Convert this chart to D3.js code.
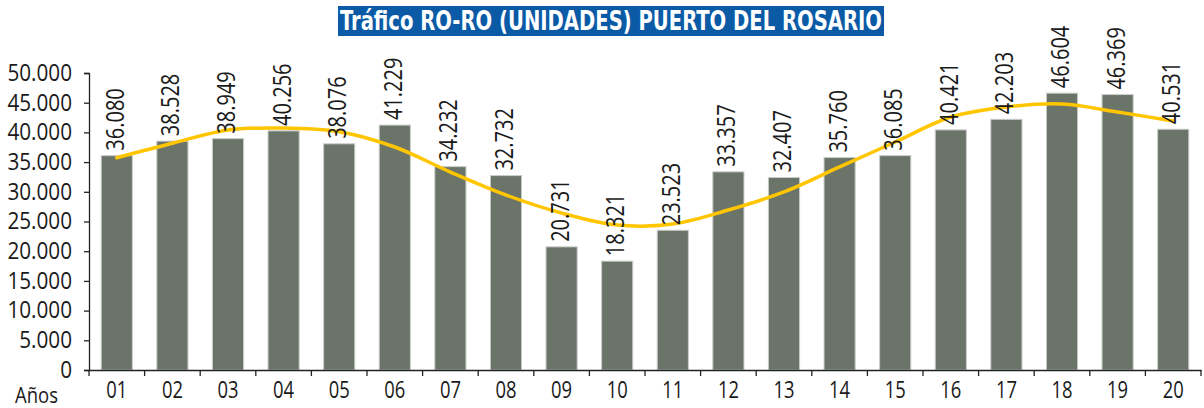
<!DOCTYPE html>
<html>
<head>
<meta charset="utf-8">
<script src="https://cdn.jsdelivr.net/npm/d3@7/dist/d3.min.js"></script>
<style>
  html, body { margin: 0; padding: 0; background: #fff; }
  svg { display: block; }
  .lbl { font-family: "Open Sans", "Noto Sans", sans-serif; fill: #1a1a1a; }
</style>
</head>
<body>
<svg id="chart" width="1204" height="408"></svg>
<script>
// Annual RO-RO traffic (units), Puerto del Rosario
const years = ["01","02","03","04","05","06","07","08","09","10","11","12","13","14","15","16","17","18","19","20"];
const units = [36080, 38528, 38949, 40256, 38076, 41229, 34232, 32732, 20731, 18321,
               23523, 33357, 32407, 35760, 36085, 40421, 42203, 46604, 46369, 40531];
// Polynomial trend line, sampled at each year
const trend = [35740, 38170, 40400, 40740, 40120, 37540, 33330, 29460, 26430, 24410,
               24580, 26940, 29970, 34180, 38380, 42590, 44280, 44780, 43430, 41920];
const yTicks = [0, 5000, 10000, 15000, 20000, 25000, 30000, 35000, 40000, 45000, 50000];
const titleText = "Tráfico RO-RO (UNIDADES) PUERTO DEL ROSARIO";
const axisTitle = "Años";

const es = d3.formatLocale({ decimal: ",", thousands: ".", grouping: [3], currency: ["", "€"] });
const fmt = es.format(",d");

// Narrow a text run to a fraction of its natural width (condensed look)
function squeeze(sel, f) {
  sel.each(function () {
    const len = this.getComputedTextLength();
    d3.select(this).attr("textLength", len * f).attr("lengthAdjust", "spacingAndGlyphs");
  });
}

const svg = d3.select("#chart");
const plotLeft = 89, plotRight = 1201, plotTop = 73, plotBottom = 370;

const x = d3.scaleBand().domain(years).range([plotLeft, plotRight]).paddingInner(0.44).paddingOuter(0.22);
const y = d3.scaleLinear().domain([0, 50000]).range([plotBottom, plotTop]);

// Title banner
const title = svg.append("g");
title.append("rect").attr("fill", "#0b5aa6")
  .attr("x", 338).attr("y", 6).attr("width", 546).attr("height", 30);
title.append("text")
  .attr("x", 611).attr("y", 30)
  .attr("text-anchor", "middle")
  .attr("fill", "#fff")
  .style("font-family", "'DejaVu Sans Condensed', 'Open Sans', sans-serif")
  .style("font-weight", "bold")
  .style("font-size", "27px")
  .attr("textLength", 542)
  .attr("lengthAdjust", "spacingAndGlyphs")
  .text(titleText);

// Bars
svg.append("g").selectAll("rect").data(years).join("rect")
  .attr("x", d => x(d))
  .attr("width", x.bandwidth())
  .attr("y", (d, i) => y(units[i]))
  .attr("height", (d, i) => y(0) - y(units[i]))
  .attr("fill", "#6a7469")
  .attr("stroke", "#c9ccc8")
  .attr("stroke-width", 1);

// Trend line
const line = d3.line()
  .x((d, i) => x(years[i]) + x.bandwidth() / 2)
  .y(d => y(d))
  .curve(d3.curveCatmullRom.alpha(0.5));
svg.append("path").datum(trend)
  .attr("d", line)
  .attr("fill", "none")
  .attr("stroke", "#ffc600")
  .attr("stroke-width", 3.5)
  .attr("stroke-linecap", "round");

// Value labels, rotated
const vals = svg.append("g").selectAll("text").data(years).join("text")
  .attr("class", "lbl")
  .attr("transform", (d, i) => `translate(${x(d) + x.bandwidth() / 2 - 2},${y(units[i]) - 5}) rotate(-90)`)
  .attr("dy", "0.36em")
  .style("font-size", "25px")
  .text((d, i) => fmt(units[i]));
squeeze(vals, 0.8);

// Y axis
const yAxis = svg.append("g")
  .attr("transform", `translate(${plotLeft},0)`)
  .call(d3.axisLeft(y).tickValues(yTicks).tickSize(5).tickPadding(12).tickFormat(fmt));
yAxis.selectAll("text").attr("class", "lbl").style("font-size", "23px").attr("fill", "#1a1a1a");
squeeze(yAxis.selectAll("text"), 0.9);
yAxis.selectAll("line, path").attr("stroke", "#222").attr("stroke-width", 1.3);

// X axis
const xAxis = svg.append("g")
  .attr("transform", `translate(0,${plotBottom})`)
  .call(d3.axisBottom(x).tickSize(0).tickPadding(12).tickSizeOuter(0));
xAxis.selectAll("text").attr("class", "lbl").style("font-size", "23px").attr("fill", "#1a1a1a");
squeeze(xAxis.selectAll("text"), 0.8);
xAxis.select("path").attr("stroke", "#222").attr("stroke-width", 1.3);
const step = x.step();
const edges = years.map(d => x(d) - x.paddingOuter() * step).concat([plotRight]);
xAxis.selectAll("line.edge").data(edges).join("line")
  .attr("class", "edge")
  .attr("x1", d => d).attr("x2", d => d)
  .attr("y1", 0).attr("y2", 6)
  .attr("stroke", "#222").attr("stroke-width", 1.3);

const yearsTitle = svg.append("text").attr("class", "lbl")
  .attr("x", 15).attr("y", 403)
  .style("font-size", "22px")
  .text(axisTitle);
squeeze(yearsTitle, 0.84);
</script>
</body>
</html>
